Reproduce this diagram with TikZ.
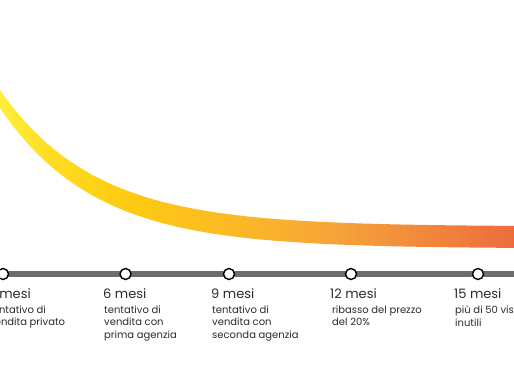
\documentclass[tikz,border=0pt]{standalone}
\usepackage{fontspec}
\setmainfont{Poppins}
\usepackage{xcolor}
\usetikzlibrary{positioning}
\definecolor{lineGray}{HTML}{6D6D6F}
\definecolor{textDark}{HTML}{2B2B2B}
\definecolor{bandA}{HTML}{FFEE3C}
\definecolor{bandAB}{HTML}{FFDC22}
\definecolor{bandB}{HTML}{FDC912}
\definecolor{bandC}{HTML}{FAB52A}
\definecolor{bandD}{HTML}{F6A23A}
\definecolor{bandE}{HTML}{ED6C3D}
\pgfdeclarehorizontalshading{bandgrad}{100bp}{color(0bp)=(bandA); color(25bp)=(bandA); color(30bp)=(bandAB); color(38bp)=(bandB); color(50bp)=(bandC); color(58bp)=(bandD); color(75bp)=(bandE); color(100bp)=(bandE)}
\tikzset{
	timeline/.style={draw=lineGray, line width=5.5pt},
	stopdot/.style={circle, draw=black, fill=white, line width=1.4pt, minimum size=11pt, inner sep=0pt},
	stoptitle/.style={anchor=base west, inner sep=0pt, text=textDark, font=\fontsize{13}{14}\selectfont},
	stopnote/.style={anchor=north west, inner sep=0pt, align=left, text=textDark, font=\fontsize{10}{12.5}\selectfont}
}

\begin{document}
\begin{tikzpicture}[x=1pt,y=-1pt]
		\useasboundingbox (0,0) rectangle (514,386);
		\clip (0,0) rectangle (514,386);
		% falling price band
		\shade[shading=bandgrad] plot[domain=0:514, samples=120, smooth] (\x,{226.5-136.5*exp(-\x/95)})
			-- plot[domain=514:0, samples=120, smooth] (\x,{248.5-140.5*exp(-\x/95)}) -- cycle;
		% timeline
		\coordinate (tl) at (-10,274);
		\coordinate (tr) at (524,274);
		\draw [timeline] (tl) -- (tr);
		\node [stopdot] (s3) at (3,274) {};
		\node [stopdot] (s6) at (125.5,274) {};
		\node [stopdot] (s9) at (229,274) {};
		\node [stopdot] (s12) at (351,274) {};
		\node [stopdot] (s15) at (478,274) {};
		% labels
		\node [stoptitle] (t3) at (-12,298.5) {3 mesi};
		\node [stopnote] (n3) at (-11,305.5) {tentativo di\\vendita privato};
		\node [stoptitle] (t6) at (103,298.5) {6 mesi};
		\node [stopnote] (n6) at (104,305.5) {tentativo di\\vendita con\\prima agenzia};
		\node [stoptitle] (t9) at (211,298.5) {9 mesi};
		\node [stopnote] (n9) at (212,305.5) {tentativo di\\vendita con\\seconda agenzia};
		\node [stoptitle] (t12) at (330,298.5) {12 mesi};
		\node [stopnote] (n12) at (332,305.5) {ribasso del prezzo\\del 20\%};
		\node [stoptitle] (t15) at (454,298.5) {15 mesi};
		\node [stopnote] (n15) at (455,305.5) {più di 50 visite\\inutili};
	\end{tikzpicture}
\end{document}
